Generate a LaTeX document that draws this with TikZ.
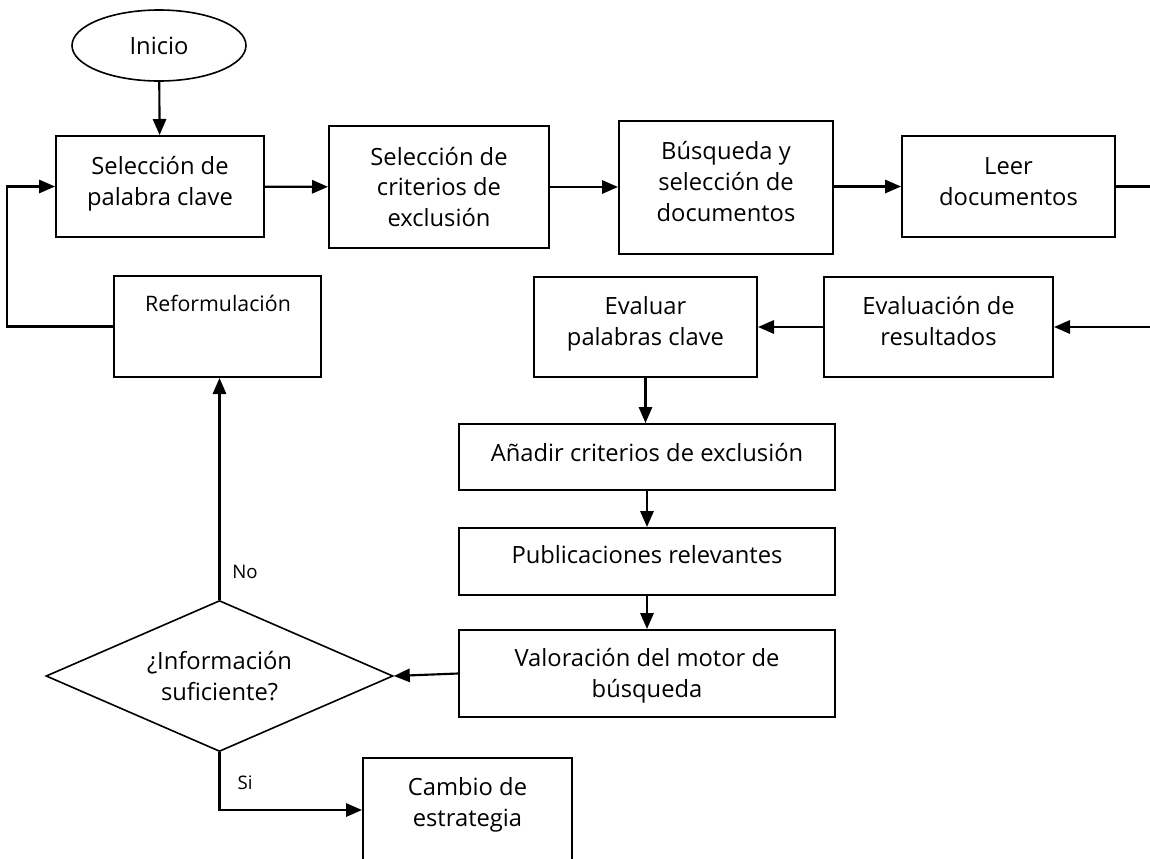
\documentclass[tikz,border=0pt]{standalone}
\usepackage{fontspec}
\setmainfont{Open Sans}
\usetikzlibrary{shapes.geometric,arrows.meta,calc}
\newcommand\mainfs{\fontsize{17.8}{23}\selectfont}
\newcommand\reffs{\fontsize{16}{20}\selectfont}
\newcommand\lblfs{\fontsize{14}{17}\selectfont}
\begin{document}
\begin{tikzpicture}[x=0.75pt,y=-0.75pt, line width=1.5pt,
  box/.style={draw, line width=1.5pt, align=center, inner sep=0pt, font=\mainfs},
  txt/.style={align=center, inner sep=0pt},
  arr/.style={draw, line width=1.6pt, -{Triangle[length=12pt,width=10pt]}},
  ln/.style={draw, line width=1.6pt},
  lbl/.style={inner sep=0pt, font=\lblfs}]
\useasboundingbox (0,0) rectangle (1150,858);
\clip (0,0) rectangle (1150,858);
\node[box, ellipse, line width=1.2pt, minimum width=130.5pt, minimum height=53.25pt] (inicio) at (159,45.5) {Inicio};
\node[box, text depth=8.8pt, minimum width=156pt, minimum height=75.75pt] (box1) at (160,186.5) {Selección de\\palabra clave};
\node[box, minimum width=165pt, minimum height=91.5pt] (box2) at (439,187) {Selección de\\criterios de\\exclusión};
\node[box, text depth=9pt, minimum width=160.5pt, minimum height=99.75pt] (box3) at (726,187.5) {Búsqueda y\\selección de\\documentos};
\node[box, text depth=7.5pt, minimum width=159.75pt, minimum height=75.75pt] (box4) at (1008.5,186.5) {Leer\\documentos};
\node[box, minimum width=155.25pt, minimum height=75.75pt] (reform) at (217.5,326.5) {};
\node[txt, font=\reffs] (reformtxt) at (218,303) {Reformulación};
\node[box, text depth=8.8pt, minimum width=167.25pt, minimum height=75pt] (evalpal) at (645.5,327) {Evaluar\\palabras clave};
\node[box, text depth=9pt, minimum width=171.75pt, minimum height=75pt] (evalres) at (938.5,327) {Evaluación de\\resultados};
\node[box, text depth=7.5pt, minimum width=282pt, minimum height=49.5pt] (anadir) at (647,457) {Añadir criterios de exclusión};
\node[box, text depth=10.3pt, minimum width=282pt, minimum height=50.25pt] (pub) at (647,561.5) {Publicaciones relevantes};
\node[box, text depth=1.3pt, minimum width=282pt, minimum height=65.25pt] (valor) at (647,673.5) {Valoración del motor de\\búsqueda};
\node[box, diamond, line width=1.2pt, aspect=2.3, minimum width=260.25pt, minimum height=113.25pt] (dec) at (219.5,676) {¿Información\\suficiente?};
\node[box, minimum width=156.75pt, minimum height=78pt] (cambio) at (467.5,810) {};
\node[txt, font=\mainfs] (cambiotxt) at (467.5,805) {Cambio de\\estrategia};
\node[lbl] (no) at (245,572) {No};
\node[lbl] (si) at (245,783) {Si};
\coordinate (rout) at (1150,186);
\coordinate (rin) at (1150,326);
\coordinate (fb) at (7,327);
\path[arr] (inicio) -- (box1);
\path[arr] (box1) -- (box2);
\path[arr] (box2.east) -- (box3.west |- box2.east);
\path[arr] (box3.east |- box4.west) -- (box4.west);
\path[ln] (box4.east) -- (box4.east -| rout);
\path[arr] (evalres.east -| rin) -- (evalres.east);
\path[arr] (evalres) -- (evalpal);
\path[arr] (evalpal.south) -- (evalpal.south |- anadir.north);
\path[arr] (anadir) -- (pub);
\path[arr] (pub) -- (valor);
\path[arr] (valor.west) -- (dec.east);
\path[arr] (dec.north) -- (dec.north |- reform.south);
\path[arr] (reform.west) -- (reform.west -| fb) |- (box1.west);
\path[arr] (dec.south) |- (cambio.west);
\end{tikzpicture}
\end{document}
